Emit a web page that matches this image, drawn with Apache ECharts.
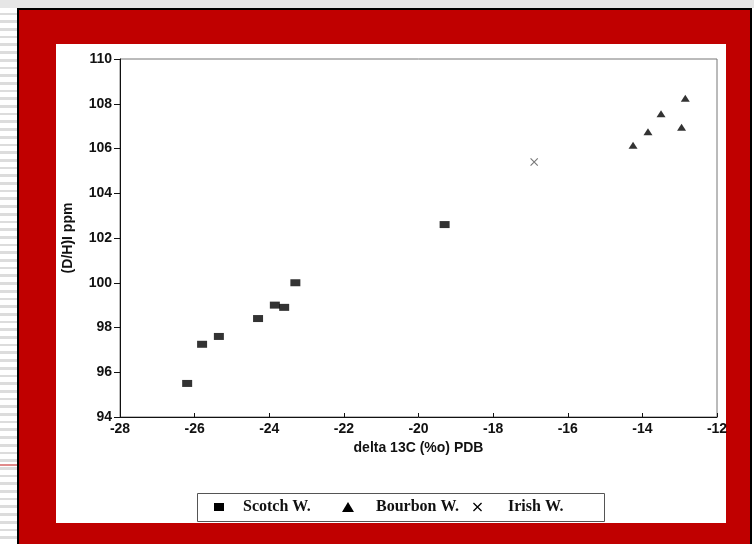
<!DOCTYPE html>
<html>
<head>
<meta charset="utf-8">
<script src="https://cdn.jsdelivr.net/npm/echarts@6/dist/echarts.min.js"></script>
<style>
  html, body { margin: 0; padding: 0; background: #fff; }
  #wrap { position: relative; width: 754px; height: 544px; overflow: hidden; }
  #strip { position: absolute; left: 0; top: 0; width: 17px; height: 544px;
           background: repeating-linear-gradient(to bottom, #fff 0px, #fff 5px, #dcdcdc 5px, #dcdcdc 7.7px); }
  #redmark { position: absolute; left: 0; top: 464px; width: 17px; height: 2px; background: #e08a8a; }
  #topband { position: absolute; left: 0; top: 0; width: 754px; height: 8px; background: #e6e6e6; }
  #frame { position: absolute; left: 17px; top: 8px; width: 731px; height: 540px;
           border-left: 2px solid #000; border-top: 2px solid #000; border-right: 2px solid #000;
           background: #c00000; }
  #inner { position: absolute; left: 56px; top: 44px; width: 670px; height: 479px; background: #fff; }
  #chart { position: absolute; left: 0; top: 0; width: 754px; height: 544px; }
</style>
</head>
<body>
<div id="wrap">
  <div id="strip"></div>
  <div id="redmark"></div>
  <div id="topband"></div>
  <div id="frame"></div>
  <div id="inner"></div>
  <div id="chart"></div>
</div>
<script>
// ---- data ----
const seriesNames = ['Scotch W.', 'Bourbon W.', 'Irish W.'];
const scotchX = [-26.2, -25.8, -25.35, -24.3, -23.85, -23.6, -23.3, -19.3];
const scotchY = [95.5, 97.25, 97.6, 98.4, 99.0, 98.9, 100.0, 102.6];
const bourbonX = [-14.25, -13.85, -13.5, -12.95, -12.85];
const bourbonY = [106.15, 106.75, 107.55, 106.95, 108.25];
const irishX = [-16.9];
const irishY = [105.4];
const xTicks = [-28, -26, -24, -22, -20, -18, -16, -14, -12];
const yTicks = [94, 96, 98, 100, 102, 104, 106, 108, 110];
const xTitle = 'delta 13C (%o) PDB';
const yTitle = '(D/H)I ppm';

function pairs(xs, ys) { return xs.map((x, i) => [x, ys[i]]); }

const crossPath = 'path://M0,1L1,0L10,9L9,10Z M9,0L10,1L1,10L0,9Z';

const chart = echarts.init(document.getElementById('chart'), null, { renderer: 'canvas' });
const labelFont = { fontFamily: 'Liberation Sans, Arial, sans-serif', fontWeight: 'bold', fontSize: 14, color: '#111' };
const legendText = { fontFamily: 'Liberation Serif, Times New Roman, serif', fontWeight: 'bold', fontSize: 16, color: '#111' };

function legendFor(name, icon, left, w, h, padLeft, color) {
  return {
    left: left, top: 499, padding: 0, itemGap: 0, itemWidth: w, itemHeight: h,
    itemStyle: color ? { color: color } : undefined,
    textStyle: Object.assign({ padding: [0, 0, 0, padLeft] }, legendText),
    data: [{ name: name, icon: icon }]
  };
}

chart.setOption({
  animation: false,
  backgroundColor: 'transparent',
  grid: { left: 120, right: 37, top: 59, bottom: 127, show: true, borderColor: '#777', borderWidth: 1, backgroundColor: 'transparent' },
  xAxis: {
    type: 'value', min: xTicks[0], max: xTicks[xTicks.length - 1], interval: 2,
    name: xTitle, nameLocation: 'middle', nameGap: 23,
    nameTextStyle: { fontFamily: 'Liberation Sans, Arial, sans-serif', fontWeight: 'bold', fontSize: 14, color: '#111' },
    axisLine: { lineStyle: { color: '#111', width: 1 } },
    axisTick: { inside: true, length: 4, lineStyle: { color: '#111' } },
    axisLabel: Object.assign({ margin: 5 }, labelFont),
    splitLine: { show: false }
  },
  yAxis: {
    type: 'value', min: yTicks[0], max: yTicks[yTicks.length - 1], interval: 2,
    name: yTitle, nameLocation: 'middle', nameGap: 45, nameRotate: 90,
    nameTextStyle: { fontFamily: 'Liberation Sans, Arial, sans-serif', fontWeight: 'bold', fontSize: 14, color: '#111' },
    axisLine: { lineStyle: { color: '#111', width: 1 } },
    axisTick: { inside: false, length: 6, lineStyle: { color: '#111' } },
    axisLabel: Object.assign({ margin: 8 }, labelFont),
    splitLine: { show: false }
  },
  graphic: [{
    type: 'rect', left: 197, top: 493, z: -1,
    shape: { width: 407, height: 28 },
    style: { fill: '#fff', stroke: '#555', lineWidth: 1 }
  }],
  legend: [
    legendFor(seriesNames[0], 'rect', 214, 10, 8, 14),
    legendFor(seriesNames[1], 'triangle', 342, 12, 10, 17),
    legendFor(seriesNames[2], crossPath, 473, 9, 9, 21)
  ],
  series: [
    { name: seriesNames[0], type: 'scatter', symbol: 'rect', symbolSize: [10, 7],
      itemStyle: { color: '#000' }, data: pairs(scotchX, scotchY) },
    { name: seriesNames[1], type: 'scatter', symbol: 'triangle', symbolSize: [9, 7],
      itemStyle: { color: '#000' }, data: pairs(bourbonX, bourbonY) },
    { name: seriesNames[2], type: 'scatter', symbol: crossPath, symbolSize: 8,
      itemStyle: { color: '#555' }, data: pairs(irishX, irishY) }
  ]
});
</script>
</body>
</html>
